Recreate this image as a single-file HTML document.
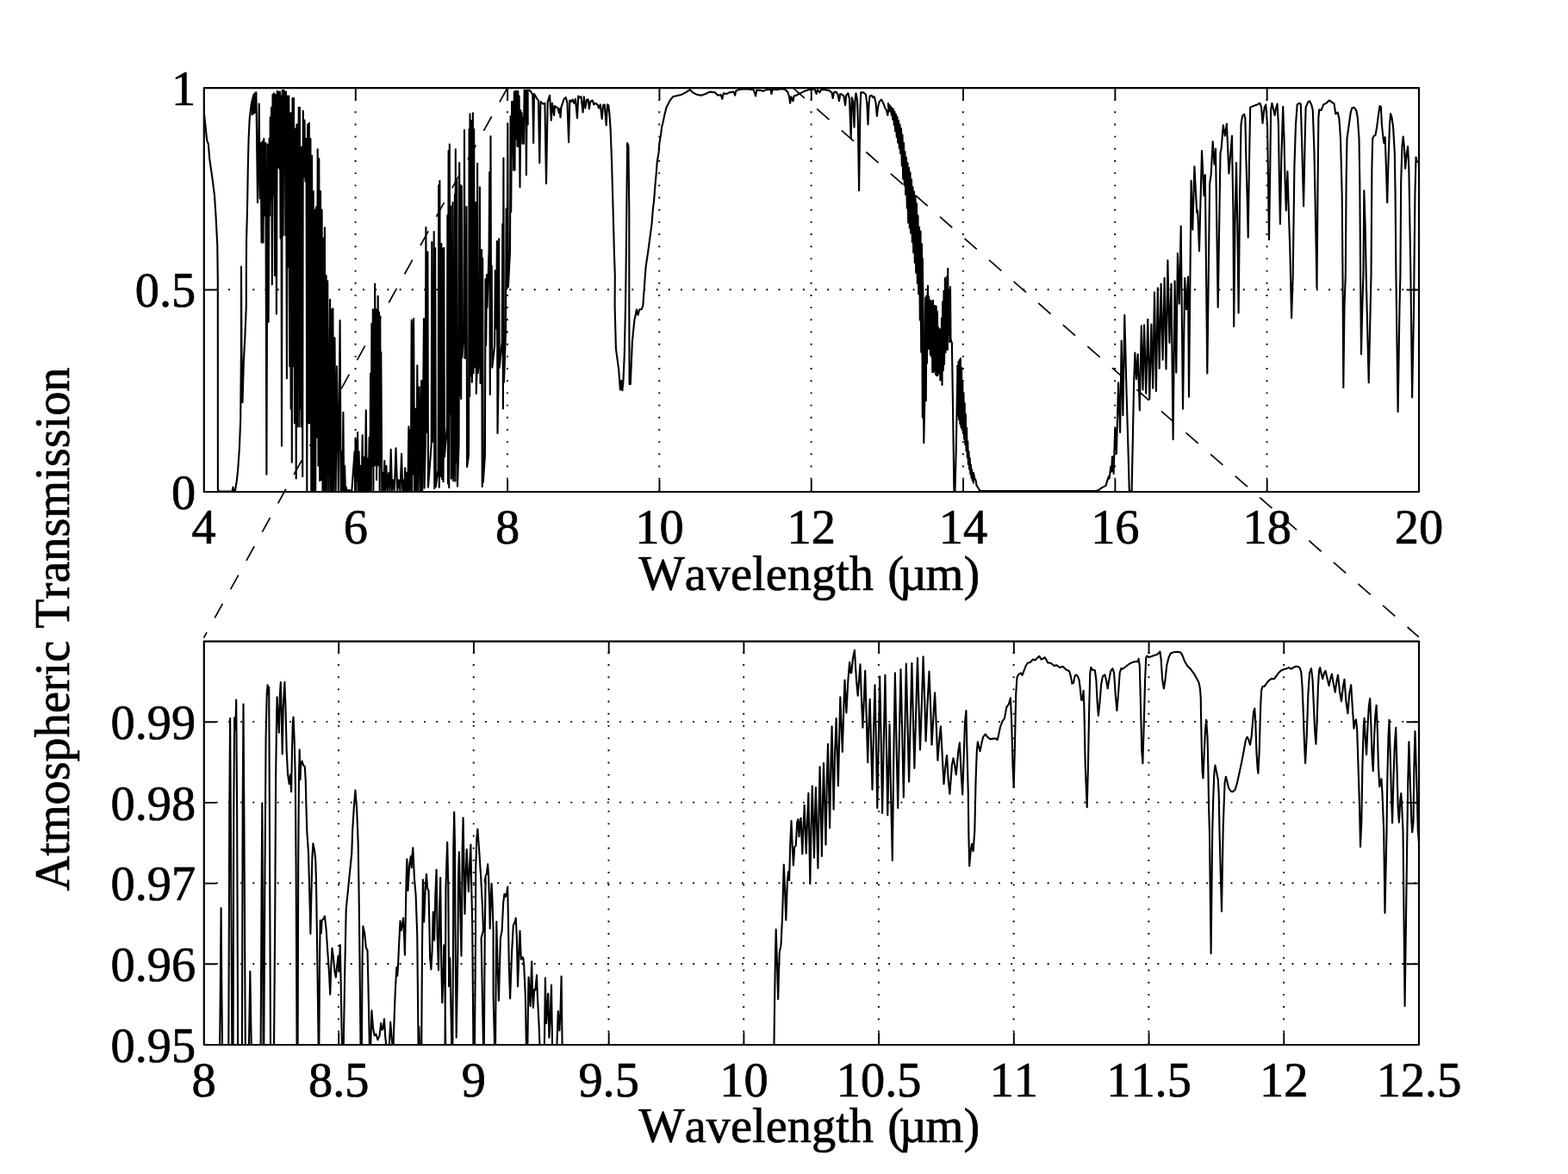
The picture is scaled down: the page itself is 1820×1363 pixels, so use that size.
<!DOCTYPE html>
<html lang="en">
<head>
<meta charset="utf-8">
<title>Atmospheric Transmission vs Wavelength</title>
<style>
html,body{margin:0;padding:0;background:#fff;}
body{width:1820px;height:1363px;overflow:hidden;}
svg{display:block;}
.f{fill:none;stroke:#000;stroke-width:2.2;stroke-linejoin:round;}
.t{fill:none;stroke:#000;stroke-width:1.9;}
.g{fill:none;stroke:#000;stroke-width:1.9;}
.gv{stroke-dasharray:1.9 12.28;}
.gh{stroke-dasharray:1.9 12.29;}
.c{fill:none;stroke:#000;stroke-width:2.1;stroke-linejoin:round;stroke-linecap:round;}
.c1{stroke-width:2.1;}
.d{fill:none;stroke:#000;stroke-width:1.7;stroke-dasharray:19 19;}
.n{font-family:"Liberation Serif","DejaVu Serif",serif;font-size:56.4px;fill:#000;stroke:#000;stroke-width:0.7px;stroke-linejoin:round;font-kerning:none;font-variant-ligatures:none;}
</style>
</head>
<body>
<svg width="1820" height="1363" viewBox="0 0 1820 1363">
<rect x="0" y="0" width="1820" height="1363" fill="#fff"/>
<line class="g gv" x1="412.61" y1="115.13" x2="412.61" y2="571.00"/>
<path class="t" d="M412.81 571.00v-14.5M412.81 102.00v14.5"/>
<line class="g gv" x1="588.92" y1="115.13" x2="588.92" y2="571.00"/>
<path class="t" d="M589.12 571.00v-14.5M589.12 102.00v14.5"/>
<line class="g gv" x1="765.24" y1="115.13" x2="765.24" y2="571.00"/>
<path class="t" d="M765.44 571.00v-14.5M765.44 102.00v14.5"/>
<line class="g gv" x1="941.55" y1="115.13" x2="941.55" y2="571.00"/>
<path class="t" d="M941.75 571.00v-14.5M941.75 102.00v14.5"/>
<line class="g gv" x1="1117.86" y1="115.13" x2="1117.86" y2="571.00"/>
<path class="t" d="M1118.06 571.00v-14.5M1118.06 102.00v14.5"/>
<line class="g gv" x1="1294.17" y1="115.13" x2="1294.17" y2="571.00"/>
<path class="t" d="M1294.38 571.00v-14.5M1294.38 102.00v14.5"/>
<line class="g gv" x1="1470.49" y1="115.13" x2="1470.49" y2="571.00"/>
<path class="t" d="M1470.69 571.00v-14.5M1470.69 102.00v14.5"/>
<line class="g gh" x1="250.79" y1="336.20" x2="1646.00" y2="336.20"/>
<path class="t" d="M236.50 336.50h14.5M1647.00 336.50h-14.5"/>
<line class="g gv" x1="393.02" y1="756.87" x2="393.02" y2="1213.00"/>
<path class="t" d="M393.22 1213.00v-14.5M393.22 744.50v14.5"/>
<line class="g gv" x1="549.74" y1="756.87" x2="549.74" y2="1213.00"/>
<path class="t" d="M549.94 1213.00v-14.5M549.94 744.50v14.5"/>
<line class="g gv" x1="706.47" y1="756.87" x2="706.47" y2="1213.00"/>
<path class="t" d="M706.67 1213.00v-14.5M706.67 744.50v14.5"/>
<line class="g gv" x1="863.19" y1="756.87" x2="863.19" y2="1213.00"/>
<path class="t" d="M863.39 1213.00v-14.5M863.39 744.50v14.5"/>
<line class="g gv" x1="1019.91" y1="756.87" x2="1019.91" y2="1213.00"/>
<path class="t" d="M1020.11 1213.00v-14.5M1020.11 744.50v14.5"/>
<line class="g gv" x1="1176.63" y1="756.87" x2="1176.63" y2="1213.00"/>
<path class="t" d="M1176.83 1213.00v-14.5M1176.83 744.50v14.5"/>
<line class="g gv" x1="1333.36" y1="756.87" x2="1333.36" y2="1213.00"/>
<path class="t" d="M1333.56 1213.00v-14.5M1333.56 744.50v14.5"/>
<line class="g gv" x1="1490.08" y1="756.87" x2="1490.08" y2="1213.00"/>
<path class="t" d="M1490.28 1213.00v-14.5M1490.28 744.50v14.5"/>
<line class="g gh" x1="250.79" y1="1119.00" x2="1646.00" y2="1119.00"/>
<path class="t" d="M236.50 1119.30h14.5M1647.00 1119.30h-14.5"/>
<line class="g gh" x1="250.79" y1="1025.30" x2="1646.00" y2="1025.30"/>
<path class="t" d="M236.50 1025.60h14.5M1647.00 1025.60h-14.5"/>
<line class="g gh" x1="250.79" y1="931.60" x2="1646.00" y2="931.60"/>
<path class="t" d="M236.50 931.90h14.5M1647.00 931.90h-14.5"/>
<line class="g gh" x1="250.79" y1="837.90" x2="1646.00" y2="837.90"/>
<path class="t" d="M236.50 838.20h14.5M1647.00 838.20h-14.5"/>
<defs><clipPath id="k1"><rect x="236.5" y="102.0" width="1410.5" height="469.0"/></clipPath><clipPath id="k2"><rect x="236.5" y="744.5" width="1410.5" height="468.5"/></clipPath></defs>
<g clip-path="url(#k1)"><path class="c c1" d="M236.6 128.0L238.3 144.5L240.2 162.7L241.9 167.6L243.2 184.2L246.5 207.3L249.0 227.1L250.6 251.9L252.3 284.9L252.8 326.2L252.9 568.9L254.8 570.5L269.6 570.5L270.5 565.6L271.3 570.5L272.9 570.2L274.9 557.3L276.2 544.9L277.9 520.2L279.2 487.1L279.9 408.7L280.0 309.6L280.5 408.7L281.5 467.3L282.8 421.1L284.5 388.1L285.8 355.0L285.8 320.0L286.1 276.6L287.0 243.6L287.8 194.1L288.6 161.0L289.8 136.3L291.9 119.8L294.4 109.9L296.9 107.4L296.0 130.5L292.7 133.0L293.6 119.8L295.2 111.5L296.4 109.0L295.7 128.0L294.4 131.3L294.7 114.8L297.2 107.4L297.4 107.4L299.0 235.3L300.7 120.6L301.7 230.4L302.6 166.0L303.6 281.6L304.6 164.3L305.5 281.6L306.3 161.0L307.3 250.2L308.3 166.0L309.4 550.7L310.6 167.6L311.6 373.7L312.6 161.0L313.1 250.2L313.7 136.3L314.4 232.0L315.0 124.7L315.8 330.3L316.5 109.9L317.3 227.1L318.0 108.2L319.0 320.0L320.0 109.9L320.9 364.5L321.8 105.7L322.6 194.1L323.5 106.6L324.2 195.7L324.9 106.6L325.6 276.6L326.3 111.5L327.0 517.7L327.7 104.9L328.6 273.3L329.4 104.9L330.1 177.6L330.7 106.6L331.4 273.3L332.0 106.6L332.9 439.2L333.7 111.5L334.5 309.6L335.3 111.5L336.2 425.2L337.0 131.3L337.6 474.7L338.1 131.3L338.8 536.7L339.5 114.0L340.2 425.2L341.0 114.0L341.9 491.3L342.9 149.5L343.7 555.6L344.4 144.5L345.0 495.4L345.6 144.5L346.2 425.2L346.7 124.7L347.3 495.4L347.9 124.7L348.5 474.7L349.2 170.9L349.9 495.4L350.5 170.9L351.2 553.2L351.8 128.8L352.7 205.6L353.5 139.6L354.5 210.6L355.5 161.0L356.3 569.7L357.1 144.5L358.0 491.3L358.8 142.9L359.6 491.3L360.4 161.0L361.3 569.7L362.1 180.9L362.9 569.7L363.7 222.1L364.6 569.7L365.4 243.6L366.2 569.7L367.0 240.3L367.9 507.8L368.7 173.4L369.5 540.8L370.3 184.2L371.2 558.1L372.0 222.1L372.8 557.3L373.6 243.6L374.5 569.7L375.3 276.6L376.1 569.7L376.9 264.2L377.8 569.7L378.6 320.0L379.4 569.7L380.2 326.2L381.7 569.7L383.1 347.9L384.0 569.7L384.9 359.2L385.6 569.7L386.4 358.3L387.4 569.7L388.5 392.2L389.7 569.7L391.0 425.2L392.8 569.7L394.6 372.1L395.7 569.7L396.8 524.3L397.6 569.7L398.4 478.9L399.2 569.7L400.1 540.8L400.9 569.7L401.7 565.6L402.7 569.7L405.0 568.9L408.3 570.2L411.6 524.3L412.1 570.2L412.6 508.6L413.3 568.9L413.9 511.1L414.5 557.3L415.1 502.0L415.8 570.2L416.6 524.3L417.6 570.2L418.6 540.8L419.6 570.2L420.7 505.3L421.5 570.2L422.4 530.9L423.6 570.2L424.8 476.4L425.8 570.2L426.8 532.5L427.7 570.2L428.6 507.8L429.4 569.7L430.1 433.5L430.8 569.7L431.4 375.7L432.1 540.8L432.8 359.2L433.4 569.7L434.1 359.2L434.7 540.8L435.2 329.5L435.9 539.1L436.5 359.2L437.1 557.3L437.7 359.2L438.2 540.8L438.7 343.8L439.4 539.1L440.0 362.5L440.7 570.2L441.3 367.4L441.8 540.8L442.3 408.7L443.3 570.2L444.3 549.0L445.3 570.2L446.3 535.0L447.3 570.2L448.3 540.8L449.8 570.2L451.2 549.0L452.5 570.2L453.7 521.8L455.0 570.2L456.2 557.3L457.8 570.2L459.5 520.2L461.2 570.2L462.8 557.3L464.5 570.2L466.1 526.8L467.3 570.2L468.6 557.3L469.4 570.2L470.2 543.3L471.3 570.2L472.4 549.0L473.4 570.2L474.4 495.4L475.2 570.2L476.0 499.5L476.8 568.9L477.7 371.6L478.3 570.2L479.0 375.7L479.6 550.7L480.1 369.9L481.2 570.2L482.3 474.7L483.3 570.2L484.3 424.4L485.5 570.2L486.7 449.2L488.0 570.2L489.2 441.7L490.2 570.2L492.0 370.0L492.6 566.6L493.8 514.9L494.4 264.0L495.0 502.0L495.8 441.6L496.4 292.6L497.0 565.6L500.7 515.8L501.3 281.0L501.9 513.2L503.1 443.6L503.7 269.0L504.3 567.2L504.6 517.1L505.2 288.1L505.8 565.1L508.6 545.0L509.2 215.0L509.8 565.7L510.4 210.0L511.0 552.9L511.8 519.5L512.4 283.1L513.0 556.0L513.3 513.0L513.9 289.3L514.5 559.2L514.7 532.5L515.3 287.8L515.9 530.5L518.8 495.6L519.4 250.0L520.0 561.5L520.6 175.0L521.2 566.1L521.8 167.6L522.4 480.6L522.6 441.5L523.2 239.5L523.8 555.7L524.9 510.4L525.5 235.0L526.1 558.2L527.3 526.0L527.9 225.4L528.5 558.7L528.8 173.2L529.4 536.7L529.8 485.3L530.4 210.0L531.0 564.8L532.6 514.2L533.2 189.1L533.8 459.0L534.6 215.0L535.2 463.0L535.8 216.4L536.4 415.1L538.4 381.6L539.0 151.1L539.6 415.9L540.9 382.0L541.5 240.0L542.1 542.0L544.0 528.3L544.6 150.0L545.2 459.9L545.5 132.4L546.1 436.5L546.6 423.3L547.2 140.0L547.8 443.7L548.3 427.6L548.9 131.3L549.5 433.3L550.2 150.0L550.8 426.4L551.6 363.9L552.2 235.0L552.8 457.0L553.5 431.9L554.1 189.7L554.7 433.2L556.3 415.8L556.9 217.2L557.5 445.0L558.0 290.0L558.6 401.0L559.1 290.0L559.7 565.0L560.2 300.0L560.8 560.0L562.9 529.4L563.5 324.4L564.1 401.1L564.3 389.7L564.9 319.1L565.5 357.3L567.6 290.2L568.2 200.0L568.8 458.0L569.5 158.3L570.1 403.8L570.7 308.5L571.3 426.7L574.2 401.0L574.8 314.0L575.4 381.3L576.3 349.3L576.9 280.0L577.5 503.0L578.5 446.3L579.1 277.4L579.7 427.0L582.7 397.2L583.3 260.0L583.9 474.5L584.4 183.6L585.0 443.7L587.0 385.3L587.6 242.4L588.2 335.4L588.7 281.0L589.3 143.4L589.9 333.2L592.0 292.1L592.6 135.0L593.2 245.9L594.1 118.1L594.7 177.6L595.4 118.1L596.1 197.4L596.9 106.6L597.5 197.4L598.2 105.7L598.9 161.0L599.7 105.7L600.5 170.1L601.3 105.7L602.0 170.1L602.6 111.5L603.5 217.2L604.3 128.0L605.0 144.5L605.6 131.3L606.4 166.8L607.3 136.3L607.9 166.8L608.6 104.9L609.3 128.0L610.1 104.9L610.9 203.1L611.7 104.9L612.7 144.5L612.6 104.9L615.0 104.9L616.7 107.4L618.3 109.9L619.2 166.0L620.0 109.0L621.6 111.5L623.3 114.8L624.9 116.5L626.3 189.1L627.4 118.1L629.1 119.8L630.7 120.6L632.4 119.8L634.0 213.1L635.7 118.1L638.1 110.7L639.8 139.6L641.0 119.8L643.1 133.8L643.9 123.1L645.6 124.7L647.2 124.7L648.9 131.3L649.7 126.4L650.5 136.3L651.4 124.7L653.0 119.8L654.7 114.8L656.8 113.2L658.5 119.8L660.1 165.2L661.3 116.5L662.9 118.1L664.6 115.6L666.2 119.8L667.9 114.8L670.0 137.1L671.2 111.5L672.8 113.2L674.5 112.3L676.6 130.5L677.8 112.3L679.4 125.5L681.1 115.6L682.7 115.6L683.9 126.4L685.2 118.1L687.7 116.5L689.3 121.4L691.0 119.8L693.5 121.4L695.1 125.5L696.8 121.4L698.7 137.9L700.1 122.2L701.7 121.4L703.7 145.4L705.0 121.4L706.3 122.2L707.5 133.0L708.6 149.5L710.0 185.8L711.6 243.6L712.9 293.1L713.8 320.0L713.6 355.0L714.9 404.6L718.2 429.3L719.9 452.5L721.2 441.7L722.4 453.3L723.5 441.7L724.8 411.2L726.0 355.0L726.5 320.0L727.3 243.6L728.1 166.0L729.4 169.3L730.3 243.6L730.3 355.0L730.6 445.9L731.8 445.9L733.9 396.3L736.4 371.6L737.7 365.8L738.9 359.2L740.5 365.8L742.2 359.2L744.6 359.2L746.3 355.0L749.6 309.6L752.1 293.1L753.2 284.9L754.5 275.0L756.5 260.1L757.8 243.6L759.2 232.0L760.3 217.2L761.8 200.7L762.8 187.5L764.5 177.6L765.4 166.0L767.1 156.1L768.1 147.8L769.7 141.2L771.1 134.6L773.5 124.7L777.7 116.5L781.0 112.3L784.3 111.5L790.9 109.9L795.8 107.4L800.8 104.1L804.1 107.4L809.0 109.9L814.0 110.7L818.9 109.0L823.9 106.6L830.0 107.4L830.0 107.4L833.3 110.7L836.6 109.9L838.3 114.8L839.9 108.2L843.2 109.0L846.5 107.4L851.5 106.6L853.1 110.7L854.4 105.2L859.7 103.6L866.3 103.3L874.6 104.1L877.1 111.5L878.2 104.6L882.8 104.9L886.1 105.7L889.4 104.1L894.4 103.6L895.5 109.0L896.7 103.6L902.6 104.1L905.9 103.3L910.9 103.6L914.2 106.6L915.9 111.5L917.2 119.8L918.3 112.3L920.5 117.3L921.6 111.5L924.1 110.7L927.4 109.0L930.7 107.4L934.0 105.7L939.0 104.1L945.6 103.3L947.6 109.0L948.9 104.1L951.4 107.4L953.0 104.1L957.1 104.1L962.1 104.9L965.4 107.4L966.7 114.0L967.9 107.4L970.3 106.6L972.3 109.0L974.0 117.3L975.3 109.0L977.8 109.9L979.4 111.5L981.1 122.2L982.2 110.7L984.4 108.2L986.0 114.8L987.7 161.0L988.8 113.2L990.2 118.1L991.5 147.8L992.6 116.5L993.5 108.2L995.1 116.5L995.9 144.5L997.1 221.3L998.4 128.0L999.2 107.4L1002.5 107.4L1005.0 109.9L1006.3 119.8L1007.5 144.5L1008.6 119.8L1009.6 111.5L1011.6 110.7L1013.3 113.2L1014.9 112.3L1016.6 119.8L1017.9 134.6L1019.0 124.7L1020.7 118.1L1023.2 115.6L1025.7 120.6L1027.3 125.5L1029.0 128.0L1030.3 133.8L1031.4 126.4L1031.0 120.1L1031.8 127.5L1032.5 122.1L1033.2 129.5L1034.0 124.1L1034.8 133.8L1035.5 125.5L1036.2 138.8L1037.0 126.8L1037.8 145.1L1038.5 129.7L1039.2 152.4L1040.0 132.7L1040.8 159.3L1041.5 135.8L1042.2 165.7L1043.0 140.1L1043.8 172.0L1044.5 144.6L1045.2 178.2L1046.0 149.0L1046.8 192.4L1047.5 156.5L1048.2 207.7L1049.0 165.8L1049.8 215.3L1050.5 176.4L1051.2 225.9L1052.0 182.8L1052.8 241.6L1053.5 189.2L1054.2 258.6L1055.0 194.7L1055.8 264.6L1056.5 200.2L1057.2 270.6L1058.0 208.4L1058.8 281.2L1059.5 217.1L1060.2 293.2L1061.0 222.5L1061.8 305.0L1062.5 228.0L1063.2 316.8L1064.0 236.2L1064.8 329.0L1065.5 250.4L1066.2 341.2L1067.0 263.9L1067.8 371.6L1068.5 268.6L1069.2 408.8L1070.0 283.3L1070.8 484.6L1070.8 300.0L1071.6 360.0L1072.3 514.3L1073.2 470.0L1074.2 345.6L1074.8 465.2L1075.5 343.6L1076.0 421.6L1076.4 358.8L1077.0 331.7L1077.6 405.1L1078.0 344.0L1078.5 404.9L1079.2 348.5L1079.8 411.6L1080.5 349.0L1081.0 413.8L1081.7 351.8L1082.3 432.0L1083.0 348.7L1083.5 432.0L1084.2 355.4L1084.8 430.2L1085.5 355.0L1086.0 434.7L1086.7 355.8L1087.3 436.1L1088.0 361.9L1088.5 435.7L1089.2 380.4L1089.8 433.3L1090.2 387.4L1090.8 382.4L1091.4 441.5L1091.7 382.3L1092.3 434.6L1093.0 369.3L1093.5 447.0L1094.2 350.4L1094.8 430.1L1095.5 337.8L1096.0 423.0L1096.3 400.4L1096.9 322.9L1097.5 409.3L1098.0 328.6L1098.5 405.0L1099.2 320.7L1099.8 406.3L1100.2 311.9L1100.8 388.6L1101.1 341.5L1101.7 336.5L1102.3 397.1L1103.0 333.1L1103.5 394.0L1104.9 398.0L1106.0 470.0L1107.4 569.6L1108.5 570.0L1109.8 520.0L1110.7 470.0L1111.5 426.0L1111.3 424.8L1111.9 482.8L1112.5 420.0L1113.1 487.3L1113.7 418.0L1114.3 492.1L1114.9 416.0L1115.5 496.1L1116.1 426.9L1116.7 498.7L1117.3 444.2L1117.9 503.2L1118.5 456.2L1119.1 509.7L1119.7 468.2L1120.3 516.2L1120.9 481.1L1121.5 523.3L1122.1 496.7L1122.7 531.3L1123.3 512.3L1123.9 539.3L1124.5 524.0L1125.1 544.8L1125.7 531.8L1126.3 550.1L1126.9 539.6L1127.5 554.8L1128.1 545.3L1128.7 557.8L1129.3 550.2L1129.9 560.8L1130.0 549.0L1131.3 555.6L1132.5 557.3L1133.6 563.9L1135.0 565.6L1136.6 568.9L1138.3 570.0L1272.0 570.0L1275.3 568.9L1278.6 566.4L1283.5 563.9L1286.0 555.6L1286.9 553.2L1287.7 555.6L1289.3 541.6L1290.2 547.4L1291.0 530.1L1292.6 549.9L1294.3 496.2L1295.9 526.8L1298.1 444.2L1300.1 502.0L1301.7 395.5L1303.4 482.2L1305.3 365.8L1307.5 453.3L1309.1 507.8L1310.8 570.0L1313.6 570.0L1314.9 507.8L1316.2 441.7L1317.4 409.5L1319.0 440.1L1320.7 411.2L1322.8 476.4L1324.8 378.2L1326.5 452.5L1328.1 377.3L1330.2 456.6L1332.3 370.7L1334.3 463.2L1336.4 376.5L1338.2 450.8L1340.0 339.4L1341.9 454.1L1343.8 334.4L1345.7 427.7L1347.6 329.5L1349.6 417.8L1351.6 322.8L1353.5 428.5L1355.4 302.2L1357.4 398.0L1359.5 329.5L1361.6 510.2L1363.6 326.2L1365.3 432.6L1366.9 294.0L1368.8 352.6L1370.7 262.6L1373.0 474.7L1375.2 322.8L1377.1 359.2L1379.0 321.2L1380.0 460.7L1382.6 209.7L1384.3 266.7L1386.4 193.2L1389.2 246.9L1390.2 244.4L1392.0 291.5L1395.0 175.1L1397.5 227.1L1398.8 203.1L1401.3 433.5L1404.1 213.9L1405.7 202.3L1407.7 164.3L1409.5 190.8L1411.0 172.6L1413.7 356.7L1416.5 177.6L1417.6 172.6L1419.8 145.4L1421.9 157.7L1423.9 143.7L1426.4 201.5L1430.0 157.7L1430.5 194.1L1431.4 243.6L1432.2 379.0L1433.5 260.1L1435.0 189.1L1436.3 260.1L1437.6 363.3L1439.1 227.1L1440.5 144.5L1442.1 134.6L1444.2 132.6L1445.4 137.9L1446.2 177.6L1447.6 227.1L1448.7 275.8L1449.9 194.1L1451.2 124.7L1452.8 123.9L1457.0 122.2L1459.4 121.4L1462.4 119.8L1464.1 124.7L1465.5 142.9L1467.7 124.7L1469.3 121.4L1471.0 144.5L1471.8 194.1L1473.0 278.3L1474.3 194.1L1475.1 128.0L1476.4 119.8L1478.4 128.0L1479.7 133.8L1480.9 126.4L1482.6 120.6L1483.9 144.5L1484.9 210.6L1485.9 260.1L1487.5 177.6L1489.2 123.9L1490.5 161.0L1491.6 210.6L1492.8 244.4L1493.6 218.8L1494.4 199.0L1495.8 243.6L1497.4 293.1L1499.1 369.1L1500.7 320.0L1502.4 194.1L1504.0 144.5L1505.7 121.4L1508.1 119.8L1509.8 120.6L1511.0 161.0L1513.1 239.5L1514.7 161.0L1515.6 124.7L1518.1 118.9L1520.0 117.3L1522.2 121.4L1523.8 128.0L1525.5 177.6L1527.1 260.1L1528.5 334.4L1529.6 210.6L1530.4 136.3L1531.3 127.2L1533.7 128.0L1536.2 121.4L1539.5 119.8L1542.8 116.5L1545.3 118.1L1548.6 120.6L1550.2 132.1L1552.7 130.5L1554.4 137.9L1556.0 161.0L1557.7 227.1L1558.5 320.0L1559.3 450.0L1560.5 355.0L1561.8 320.0L1562.6 210.6L1563.5 161.0L1565.1 149.5L1567.6 131.3L1569.2 125.5L1571.7 124.7L1574.2 128.0L1575.8 136.3L1577.5 161.0L1578.3 210.6L1579.1 320.0L1580.0 411.2L1581.3 355.0L1582.4 320.0L1583.3 221.3L1584.6 260.1L1585.7 320.0L1588.7 444.2L1590.7 355.0L1591.5 320.0L1592.4 194.1L1593.2 161.0L1594.8 157.7L1596.5 156.9L1598.1 147.8L1599.8 134.6L1601.4 123.1L1602.8 123.9L1603.9 144.5L1605.6 161.0L1606.4 166.0L1607.7 159.4L1608.9 194.1L1610.2 235.3L1611.3 194.1L1613.0 144.5L1614.1 132.1L1615.5 136.3L1617.1 147.8L1618.8 177.6L1619.6 227.1L1620.4 320.0L1622.6 478.0L1624.5 355.0L1625.4 320.0L1626.2 210.6L1627.5 169.3L1628.7 158.6L1629.8 169.3L1631.2 195.7L1632.8 177.6L1634.1 170.1L1635.3 194.1L1636.4 260.1L1637.4 320.0L1639.1 461.5L1641.1 355.0L1641.4 320.0L1642.4 227.1L1643.5 182.5L1644.7 187.5L1647.0 189.1"/></g>
<g clip-path="url(#k2)"><path class="c" d="M236.6 1218.8L255.1 1218.8L255.9 1136.3L256.6 1054.4L257.2 1136.3L258.1 1218.8L265.3 1218.8L266.3 938.1L267.1 834.1L268.1 987.7L269.3 1218.8L270.6 1218.8L271.3 938.1L272.1 833.3L272.8 845.7L273.3 847.3L274.2 812.6L275.1 938.1L276.2 1218.8L280.9 1218.8L281.7 938.1L282.5 817.6L283.5 971.2L284.8 1218.8L288.9 1218.8L290.3 1127.8L291.8 1218.8L302.6 1218.8L303.6 1037.2L304.3 932.4L305.0 1070.2L305.6 1218.8L306.3 1218.8L307.3 1037.2L308.6 855.6L309.7 806.0L310.6 795.3L311.4 806.0L312.2 797.8L312.7 905.1L313.4 1070.2L314.0 1218.8L318.0 1218.8L319.2 1070.2L320.1 905.1L321.0 839.1L321.6 809.3L322.8 832.5L323.8 850.6L324.9 806.0L325.8 792.0L326.6 822.6L327.7 875.4L328.7 822.6L329.6 806.0L330.4 792.0L331.5 822.6L332.7 872.1L334.0 898.5L335.7 910.1L337.0 899.3L338.1 919.1L339.0 872.1L339.8 839.1L340.6 832.5L341.9 865.5L342.8 905.1L343.6 1004.2L344.6 1218.8L345.6 1218.8L346.2 1004.2L346.9 905.1L347.7 870.4L348.5 905.1L349.2 888.6L350.5 883.6L352.2 888.6L353.8 890.2L354.7 905.1L355.5 938.1L356.3 965.0L358.0 990.0L359.3 1037.2L360.4 1084.1L361.4 1037.2L362.4 995.9L363.4 979.4L365.1 987.7L366.2 997.6L367.0 1023.0L368.4 1119.7L369.7 1218.8L370.3 1218.8L371.0 1119.7L371.7 1068.6L372.8 1083.4L373.6 1068.6L375.3 1066.9L376.9 1063.6L378.6 1078.5L380.2 1103.2L381.9 1128.0L383.2 1154.4L384.4 1119.7L385.5 1100.8L386.9 1111.5L388.5 1128.0L389.8 1134.6L391.0 1123.0L392.6 1109.8L393.5 1128.0L394.8 1097.0L395.6 1136.3L396.4 1185.8L397.1 1218.8L398.7 1218.8L400.1 1136.3L401.7 1056.0L405.0 1023.0L408.3 990.0L409.1 965.0L410.8 938.1L412.4 917.5L414.1 938.1L415.7 979.4L416.6 1037.2L417.4 1105.5L418.6 1218.8L419.9 1218.8L420.5 1119.7L421.4 1075.2L423.2 1083.4L424.8 1099.9L426.5 1103.2L427.3 1136.3L429.0 1218.8L430.1 1218.8L431.4 1173.2L433.1 1194.0L434.7 1202.3L436.4 1200.6L438.4 1207.3L440.5 1202.3L442.2 1188.1L443.3 1195.7L444.6 1194.0L446.0 1183.1L447.1 1202.3L448.8 1218.8L451.6 1218.8L453.2 1186.5L454.5 1202.3L455.9 1218.8L456.5 1218.8L457.5 1185.8L458.7 1152.8L460.3 1123.0L461.2 1133.0L462.0 1122.1L462.8 1103.2L464.5 1069.2L465.8 1080.1L466.9 1073.5L468.1 1065.9L469.1 1086.7L469.9 1108.8L470.7 1070.2L471.6 1020.7L472.4 997.6L473.5 1033.9L475.2 1004.2L476.8 994.3L477.7 1007.5L478.5 992.6L479.3 984.4L481.0 1020.7L482.6 1038.8L484.3 1086.7L485.6 1218.8L485.9 1218.8L486.4 1192.4L487.1 1218.8L489.2 1218.8L490.0 1103.2L490.9 1021.3L492.2 1070.2L493.8 1028.9L495.0 1014.7L496.2 1032.2L497.5 1033.9L498.3 1070.2L499.1 1111.5L500.4 1125.4L501.6 1103.2L502.8 1058.7L504.1 1091.7L505.4 1037.2L506.6 1009.8L507.7 1086.7L509.0 1126.4L510.2 1053.7L511.2 1019.0L512.3 1119.7L513.3 1164.3L514.3 1136.3L515.3 1097.3L516.5 1152.8L517.3 1218.8L516.5 1221.2L517.5 1029.1L519.2 977.9L520.3 1029.1L521.1 1145.2L522.3 1112.2L524.4 1221.2L525.3 1221.2L526.1 1072.6L526.3 985.0L527.2 942.7L528.1 985.0L528.4 1072.6L529.7 1204.6L531.4 1105.6L532.0 1018.1L532.9 989.4L533.8 1029.1L534.3 1056.0L535.5 1109.7L536.3 1039.5L536.7 985.0L537.6 949.6L538.4 996.0L539.5 1061.0L540.6 1018.1L541.7 986.1L542.8 1012.6L543.9 1035.1L545.0 1007.1L546.4 980.6L547.2 1029.1L548.2 1072.6L549.5 1221.2L550.9 1221.2L552.0 1089.1L552.2 1007.1L553.3 974.0L554.4 962.5L555.2 974.0L556.0 985.0L558.2 1018.1L559.9 1051.1L561.0 1080.0L558.6 1089.1L561.1 1221.2L561.8 1221.2L562.7 1089.1L563.6 1018.1L562.6 1023.6L563.7 1017.0L564.8 1014.8L566.2 1003.2L567.1 1018.1L568.2 1051.1L568.7 1078.0L569.5 1051.1L570.6 1025.8L571.5 1045.6L572.6 1080.0L572.6 1155.1L574.3 1221.2L575.0 1221.2L575.6 1138.6L576.3 1070.1L577.6 1122.1L578.9 1161.7L580.9 1089.1L582.6 1080.8L584.2 1047.8L585.5 1037.9L586.7 1041.2L587.8 1039.5L589.2 1029.6L590.0 1072.6L590.8 1122.1L592.1 1159.2L594.1 1105.6L595.8 1074.2L597.4 1070.9L598.7 1065.9L599.9 1089.1L601.0 1145.2L602.4 1105.6L603.5 1080.8L604.8 1113.8L606.5 1111.4L607.3 1112.2L608.1 1118.8L609.8 1155.1L611.0 1221.2L612.3 1221.2L613.1 1155.1L613.6 1134.5L614.7 1155.1L615.6 1168.3L616.4 1138.6L617.2 1116.3L618.1 1155.1L618.9 1170.0L620.2 1148.5L621.4 1149.3L623.0 1132.0L623.8 1155.1L625.5 1188.1L626.8 1221.2L631.8 1221.2L632.9 1135.3L634.1 1188.1L635.1 1171.6L636.2 1153.5L637.4 1204.6L638.4 1188.1L640.0 1143.5L641.2 1221.2L646.1 1221.2L647.8 1174.1L649.4 1196.4L650.6 1171.6L651.6 1133.6L652.7 1221.2L898.4 1218.8L899.1 1163.2L899.9 1113.6L900.7 1079.0L902.0 1119.7L903.2 1159.9L904.0 1128.0L904.8 1105.4L906.5 1097.1L908.1 1064.1L909.0 1031.1L909.8 1003.8L911.0 1031.1L912.3 1068.2L913.9 1022.8L915.1 1012.1L916.1 1022.0L917.2 981.6L918.5 953.0L919.7 981.6L920.9 1004.7L922.2 983.2L923.8 981.6L925.2 954.6L926.3 951.3L927.5 971.2L928.5 954.6L929.6 949.7L931.3 991.5L932.4 962.9L933.7 934.8L935.7 990.6L937.0 954.6L938.4 920.8L940.3 1026.1L941.7 954.6L942.8 912.5L945.0 995.6L946.0 946.4L946.9 914.2L949.4 1008.0L950.6 938.1L951.6 890.2L953.9 993.9L955.2 921.6L956.0 886.1L958.5 980.7L959.8 905.1L961.0 863.8L963.1 961.2L964.4 888.6L965.6 843.2L967.6 939.8L969.2 872.1L970.6 834.1L972.9 912.5L974.2 855.6L975.3 809.3L977.8 872.9L979.3 822.6L980.5 789.5L982.4 827.5L984.4 789.5L986.1 768.9L987.4 781.3L988.2 781.3L989.9 764.8L991.9 754.9L994.0 789.5L995.7 807.7L997.3 786.2L998.5 771.4L1000.1 814.3L1001.4 844.8L1003.1 806.0L1004.2 778.8L1005.9 839.1L1007.2 885.3L1008.5 839.1L1009.7 811.8L1011.3 872.1L1012.5 916.7L1014.1 847.3L1015.5 795.3L1017.1 872.1L1018.3 938.1L1019.9 855.6L1021.2 785.4L1022.9 872.1L1024.1 943.9L1025.9 855.6L1027.4 783.8L1029.0 872.1L1030.3 946.4L1031.5 888.6L1032.5 840.7L1034.1 921.6L1035.8 998.9L1037.4 872.1L1038.9 781.3L1040.7 872.1L1042.2 938.1L1044.0 847.3L1045.5 777.1L1047.3 855.6L1048.8 925.7L1050.5 839.1L1051.8 770.5L1053.6 847.3L1055.1 907.6L1056.9 830.8L1058.4 769.7L1060.0 839.1L1061.4 891.9L1063.3 822.6L1065.0 763.9L1066.6 822.6L1068.0 870.4L1070.0 814.3L1071.6 762.3L1073.3 814.3L1074.6 860.5L1076.7 814.3L1078.5 779.6L1080.2 822.6L1081.5 864.7L1083.5 830.8L1085.1 804.4L1087.0 847.3L1088.4 882.8L1090.3 858.9L1091.9 843.2L1093.9 880.3L1095.5 910.1L1097.2 891.9L1098.8 877.9L1099.1 877.0L1100.7 905.1L1102.4 921.6L1104.9 888.6L1106.5 880.3L1108.2 888.6L1109.8 899.3L1112.3 872.1L1113.9 862.2L1115.6 896.9L1117.2 922.4L1118.9 872.1L1120.0 839.1L1121.4 825.0L1122.5 872.1L1123.8 921.6L1124.3 965.0L1125.2 1005.5L1126.7 987.7L1128.0 979.9L1129.6 988.2L1131.3 965.0L1132.6 905.1L1133.8 872.1L1134.9 861.4L1136.2 867.1L1137.6 872.1L1139.5 862.2L1141.2 855.6L1143.7 852.3L1146.1 855.6L1149.4 858.1L1152.7 857.6L1155.2 857.2L1157.7 858.9L1159.3 852.3L1161.0 844.0L1163.5 837.4L1165.9 834.1L1168.4 820.9L1170.9 817.6L1172.9 810.2L1174.2 839.1L1175.5 888.6L1176.7 914.2L1177.8 872.1L1179.2 806.0L1180.5 786.2L1182.5 782.9L1184.9 781.3L1186.6 783.8L1188.2 779.6L1190.7 773.0L1192.7 769.7L1195.7 768.9L1199.0 765.6L1201.4 766.4L1203.9 763.9L1206.4 761.8L1208.5 765.6L1210.5 764.8L1212.7 763.1L1214.7 766.4L1216.3 769.4L1219.6 769.7L1223.7 773.0L1226.2 772.2L1230.3 775.0L1233.6 773.8L1236.9 777.1L1241.1 779.3L1242.7 784.6L1244.4 793.7L1246.0 792.8L1247.7 784.6L1249.3 783.3L1251.0 785.4L1252.6 789.5L1253.8 799.4L1255.1 812.6L1256.4 812.6L1257.6 801.9L1258.4 822.6L1259.7 888.6L1261.7 937.3L1263.0 888.6L1264.2 822.6L1265.3 781.3L1266.3 774.7L1268.3 778.0L1270.8 778.0L1272.4 789.5L1273.6 814.3L1274.9 830.8L1276.6 814.3L1278.2 794.5L1279.9 785.4L1282.4 783.3L1284.0 789.5L1285.7 799.4L1287.3 789.5L1289.0 779.6L1291.4 776.0L1293.1 781.3L1294.7 806.0L1296.4 825.0L1298.0 806.0L1299.7 781.3L1301.3 776.0L1303.0 776.7L1304.6 775.5L1307.9 773.0L1311.2 770.5L1314.5 768.9L1317.8 768.1L1320.3 768.1L1321.6 764.8L1322.8 773.0L1324.1 822.6L1325.3 872.1L1326.4 886.1L1327.8 839.1L1329.1 789.5L1330.2 763.9L1331.4 761.5L1333.5 763.1L1336.0 762.3L1339.3 761.1L1342.6 760.1L1345.1 758.2L1346.4 756.5L1347.6 764.8L1349.2 789.5L1350.9 799.4L1352.5 789.5L1354.2 773.0L1356.6 763.1L1359.1 758.2L1362.4 757.3L1367.4 756.8L1370.7 757.8L1372.7 761.5L1374.8 767.2L1378.1 773.0L1382.2 777.1L1386.4 782.9L1390.0 789.5L1391.6 792.8L1392.9 799.4L1393.7 809.3L1394.2 839.1L1394.9 872.1L1395.7 896.9L1396.5 903.5L1397.8 872.1L1399.0 847.3L1400.1 835.8L1401.5 855.6L1402.3 888.6L1403.1 938.1L1403.9 965.0L1405.6 1107.0L1407.2 965.0L1408.4 921.6L1409.4 896.9L1410.5 888.6L1412.2 896.9L1413.8 905.1L1414.7 921.6L1415.5 965.0L1418.0 1058.3L1419.6 965.0L1420.5 938.1L1421.6 908.4L1422.9 901.8L1424.6 908.4L1426.2 915.0L1428.7 918.6L1431.2 919.1L1433.7 916.7L1436.1 908.4L1438.6 896.9L1441.1 885.3L1443.6 872.1L1446.0 858.9L1447.7 855.6L1449.3 858.9L1451.0 864.7L1452.6 855.6L1454.0 839.1L1455.1 825.9L1456.3 822.6L1457.3 839.1L1458.4 872.1L1459.6 891.9L1460.4 897.7L1461.7 872.1L1462.6 839.1L1463.4 814.3L1464.2 801.1L1465.5 797.0L1467.5 797.0L1470.0 793.7L1472.5 790.4L1475.8 787.9L1479.1 788.2L1481.5 784.6L1484.0 781.3L1487.3 778.3L1490.6 777.1L1493.9 776.0L1496.4 775.0L1498.5 776.7L1501.4 775.0L1503.8 773.8L1506.3 773.8L1508.8 775.5L1510.4 781.3L1511.6 797.8L1512.6 822.6L1513.7 855.6L1515.1 886.1L1516.7 855.6L1518.4 806.0L1520.0 781.3L1522.0 776.0L1523.6 789.5L1525.0 822.6L1526.1 847.3L1527.4 863.8L1528.6 839.1L1529.9 797.8L1531.1 778.0L1532.2 775.0L1533.5 781.3L1535.2 788.2L1536.9 781.3L1538.5 778.8L1540.2 786.2L1542.6 796.1L1544.3 787.9L1545.9 782.6L1547.6 792.8L1549.7 803.6L1551.4 791.2L1553.0 783.8L1555.0 802.7L1557.0 814.3L1558.8 797.8L1560.5 788.7L1562.4 814.3L1564.4 828.3L1566.2 806.0L1568.2 795.3L1569.9 822.6L1571.5 845.7L1572.8 837.4L1574.0 835.4L1575.2 847.3L1576.5 888.6L1578.1 938.1L1579.0 983.2L1580.3 954.6L1581.4 888.6L1582.8 842.4L1583.6 833.8L1584.7 855.6L1586.1 876.2L1587.7 839.1L1588.9 819.3L1590.2 811.0L1591.3 839.1L1592.7 880.3L1593.8 895.2L1595.1 855.6L1596.3 830.8L1597.6 818.9L1598.8 847.3L1599.9 888.6L1601.2 913.4L1602.6 906.8L1603.4 904.3L1604.5 921.6L1606.2 965.0L1607.5 1060.0L1609.5 965.0L1610.3 905.1L1611.5 855.6L1612.5 835.8L1613.6 872.1L1614.9 921.6L1616.1 955.5L1617.4 905.1L1618.9 863.8L1620.2 844.8L1621.4 888.6L1622.7 938.1L1623.9 954.6L1625.2 929.9L1626.3 921.1L1627.3 938.1L1628.5 965.0L1630.6 1168.1L1633.4 965.0L1634.3 905.1L1635.4 861.4L1636.7 905.1L1638.4 954.6L1639.2 966.2L1640.5 954.6L1641.4 888.6L1642.5 849.0L1643.7 888.6L1645.0 929.9L1645.8 965.0L1647.0 977.8"/></g>
<path class="d" d="M589 102L236.5 740.5"/><path class="d" d="M919.6 101.3L1646.8 739.6"/>
<rect class="f" x="236.8" y="102.1" width="1410.2" height="468.9"/>
<rect class="f" x="236.8" y="744.6" width="1410.2" height="468.4"/>
<text class="n" x="236.50" y="630.6" text-anchor="middle">4</text>
<text class="n" x="412.81" y="630.6" text-anchor="middle">6</text>
<text class="n" x="589.12" y="630.6" text-anchor="middle">8</text>
<text class="n" x="765.44" y="630.6" text-anchor="middle">10</text>
<text class="n" x="941.75" y="630.6" text-anchor="middle">12</text>
<text class="n" x="1118.06" y="630.6" text-anchor="middle">14</text>
<text class="n" x="1294.38" y="630.6" text-anchor="middle">16</text>
<text class="n" x="1470.69" y="630.6" text-anchor="middle">18</text>
<text class="n" x="1647.00" y="630.6" text-anchor="middle">20</text>
<text class="n" x="236.50" y="1272.8" text-anchor="middle">8</text>
<text class="n" x="393.22" y="1272.8" text-anchor="middle">8.5</text>
<text class="n" x="549.94" y="1272.8" text-anchor="middle">9</text>
<text class="n" x="706.67" y="1272.8" text-anchor="middle">9.5</text>
<text class="n" x="863.39" y="1272.8" text-anchor="middle">10</text>
<text class="n" x="1020.11" y="1272.8" text-anchor="middle">10.5</text>
<text class="n" x="1176.83" y="1272.8" text-anchor="middle">11</text>
<text class="n" x="1333.56" y="1272.8" text-anchor="middle">11.5</text>
<text class="n" x="1490.28" y="1272.8" text-anchor="middle">12</text>
<text class="n" x="1647.00" y="1272.8" text-anchor="middle">12.5</text>
<text class="n" x="227.2" y="590.80" text-anchor="end">0</text>
<text class="n" x="227.2" y="356.30" text-anchor="end">0.5</text>
<text class="n" x="227.2" y="121.80" text-anchor="end">1</text>
<text class="n" x="227.2" y="1232.80" text-anchor="end">0.95</text>
<text class="n" x="227.2" y="1139.10" text-anchor="end">0.96</text>
<text class="n" x="227.2" y="1045.40" text-anchor="end">0.97</text>
<text class="n" x="227.2" y="951.70" text-anchor="end">0.98</text>
<text class="n" x="227.2" y="858.00" text-anchor="end">0.99</text>
<text class="n" x="741.6" y="684.8">Wavelength <tspan x="1030.3">(</tspan><tspan x="1043.6">µ</tspan><tspan x="1074.6">m)</tspan></text>
<text class="n" x="741.6" y="1325.8">Wavelength <tspan x="1030.3">(</tspan><tspan x="1043.6">µ</tspan><tspan x="1074.6">m)</tspan></text>
<text class="n" transform="translate(79.5,1034.5) rotate(-90)" textLength="608" lengthAdjust="spacing">Atmospheric Transmission</text>
</svg>
</body>
</html>
